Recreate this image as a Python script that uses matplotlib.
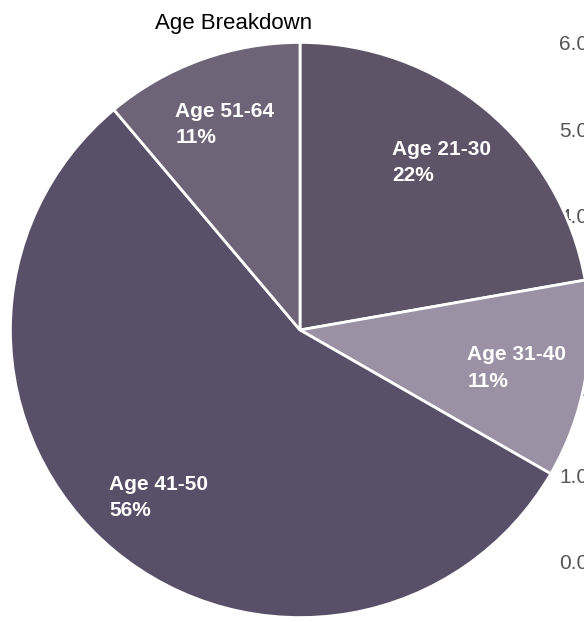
import matplotlib
matplotlib.use('Agg')
import matplotlib.pyplot as plt

# data (counts out of 9)
ages = ['Age 21-30', 'Age 31-40', 'Age 41-50', 'Age 51-64']
counts = [2, 1, 5, 1]
colors = ['#5e5468', '#9b91a5', '#585069', '#6e6478']
# axis labels of the chart that sits behind the pie
axis_ticks = [0, 1, 2, 3, 4, 5, 6]

total = sum(counts)
labels = [a + '\n' + '%d%%' % round(c * 100 / total) for a, c in zip(ages, counts)]

fig = plt.figure(figsize=(5.84, 6.22), dpi=100)

# background axes: only its tick labels show, on the right
axb = fig.add_axes([0.3, 0.0965, 0.643, 0.8344])
axb.set_ylim(0, 6)
axb.set_yticks(axis_ticks)
axb.set_yticklabels(['%.1f' % t for t in axis_ticks])
axb.yaxis.tick_right()
axb.tick_params(axis='y', length=0, pad=6, labelsize=15, labelcolor='#555555')
axb.set_xticks([])
for s in axb.spines.values():
    s.set_visible(False)
axb.patch.set_alpha(0)
for t in axb.get_yticklabels():
    t.set_family('Liberation Sans')

# the pie (scan is a little wider than tall)
ax = fig.add_axes([0.0154, 0.0048, 0.9966, 0.9293])
ax.set_zorder(2)
wedges, texts = ax.pie(counts, labels=labels, colors=colors, startangle=90,
                       counterclock=False, labeldistance=0.76,
                       wedgeprops=dict(edgecolor='white', linewidth=2))
for t in texts:
    t.set_ha('center')
    t.set_va('center')
    t.set_multialignment('left')
    t.set_color('white')
    t.set_fontsize(15)
    t.set_fontweight('bold')
    t.set_family('Liberation Sans')
    t.set_linespacing(1.5)
ax.set_aspect('auto')
ax.set_xlim(-1.005, 1.005)
ax.set_ylim(-1.005, 1.005)

fig.text(234 / 584, 1 - 23 / 622, 'Age Breakdown', ha='center', va='center',
         fontsize=16, family='Liberation Sans', color='black')

plt.savefig('out.png', dpi=100)
